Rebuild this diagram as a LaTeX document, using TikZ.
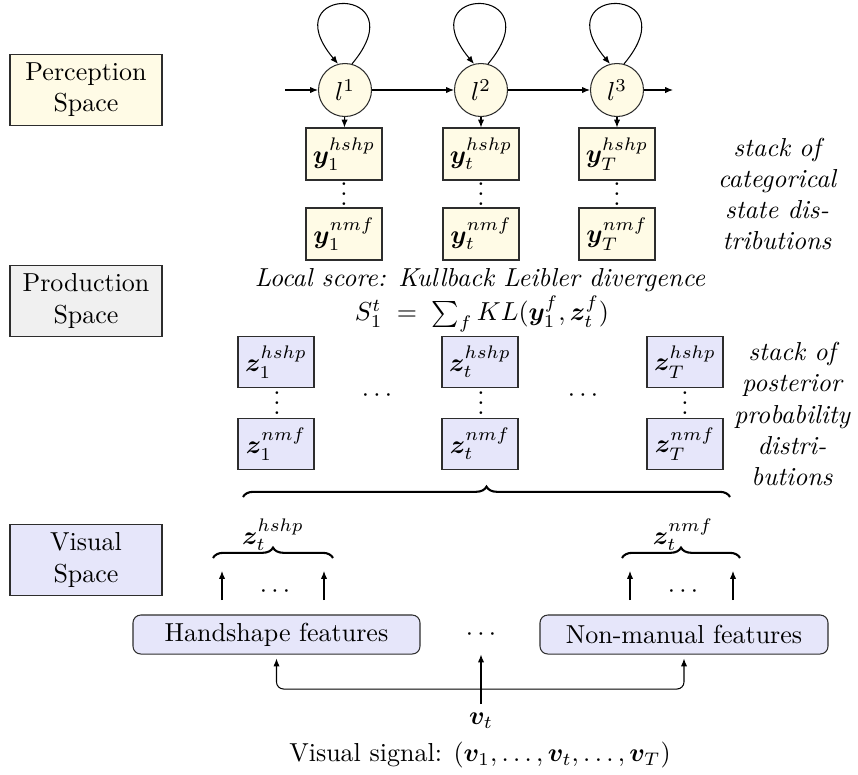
\documentclass[tikz,border=0pt]{standalone}
\usepackage{bm}
\usetikzlibrary{arrows.meta,decorations.pathreplacing,calc}
\newdimen\pxu \pxu=0.3846pt
\newcommand\myvdots{\vbox{\baselineskip3.8pt \lineskiplimit0pt \hbox{.}\hbox{.}\hbox{.}}}
\definecolor{cream}{RGB}{255,251,230}
\definecolor{lav}{RGB}{230,230,250}
\definecolor{pgray}{RGB}{240,240,240}
\definecolor{bord}{RGB}{45,45,45}
\begin{document}
\begin{tikzpicture}[x=0.3846pt,y=0.3846pt,
  >={Latex[length=3pt,width=2.4pt]},
  spacebox/.style={draw=bord,minimum width=152\pxu,minimum height=71\pxu,align=center,inner sep=0pt},
  st/.style={circle,draw=bord,fill=cream,minimum size=53\pxu,inner sep=0pt},
  ybox/.style={draw=bord,fill=cream,minimum width=76\pxu,minimum height=52\pxu,inner sep=0pt},
  zbox/.style={draw=bord,fill=lav,minimum width=76\pxu,minimum height=51\pxu,inner sep=0pt},
  feat/.style={draw=bord,fill=lav,rounded corners=3pt,minimum height=39\pxu,inner sep=0pt},
  note/.style={font=\itshape,align=center,inner sep=0pt},
  txt/.style={inner sep=0pt},
  brc/.style={decorate,decoration={brace,amplitude=4pt},line width=0.8pt},
]
\useasboundingbox (0,0) rectangle (858,-774);

% space labels
\node[spacebox,fill=cream] (perc) at (86,-90) {Perception\\Space};
\node[spacebox,fill=pgray] (prod) at (86,-301) {Production\\Space};
\node[spacebox,fill=lav] (vis) at (86,-560) {Visual\\Space};

% perception chain
\node[st] (l1) at (345,-90) {$l^1$};
\node[st] (l2) at (481,-90) {$l^2$};
\node[st] (l3) at (617,-90) {$l^3$};
\coordinate (cin) at (285,-90);
\coordinate (cout) at (673,-90);
\draw[->] (cin) -- (l1);
\draw[->] (l1) -- (l2);
\draw[->] (l2) -- (l3);
\draw[->] (l3) -- (cout);
\foreach \n in {l1,l2,l3}
  \draw[->] (\n.75) .. controls +(50:104) and +(130:104) .. (\n.105);

% y boxes
\node[ybox] (y1h) at (344,-154) {$\bm{y}_1^{hshp}$};
\node[ybox] (y1n) at (344,-234) {$\bm{y}_1^{nmf}$};
\node[txt] (y1d) at (344,-194) {\myvdots};
\node[ybox] (yth) at (481,-154) {$\bm{y}_t^{hshp}$};
\node[ybox] (ytn) at (481,-234) {$\bm{y}_t^{nmf}$};
\node[txt] (ytd) at (481,-194) {\myvdots};
\node[ybox] (yTh) at (617,-154) {$\bm{y}_T^{hshp}$};
\node[ybox] (yTn) at (617,-234) {$\bm{y}_T^{nmf}$};
\node[txt] (yTd) at (617,-194) {\myvdots};
\draw[->] (l1) -- (y1h);
\draw[->] (l2) -- (yth);
\draw[->] (l3) -- (yTh);

\node[note] (n1) at (777,-194) {stack of\\categorical\\state dis-\\tributions};

% local score
\node[txt,font=\itshape] (ls) at (480,-280) {Local score: Kullback Leibler divergence};
\node[txt] (eq) at (482,-314) {$S_1^t \;=\; \sum_f KL(\bm{y}_1^f,\bm{z}_t^f)$};

% z boxes
\node[zbox] (z1h) at (276,-362) {$\bm{z}_1^{hshp}$};
\node[zbox] (z1n) at (276,-444) {$\bm{z}_1^{nmf}$};
\node[txt] (z1d) at (277,-403) {\myvdots};
\node[zbox] (zth) at (480,-362) {$\bm{z}_t^{hshp}$};
\node[zbox] (ztn) at (480,-444) {$\bm{z}_t^{nmf}$};
\node[txt] (ztd) at (481,-403) {\myvdots};
\node[zbox] (zTh) at (685,-362) {$\bm{z}_T^{hshp}$};
\node[zbox] (zTn) at (685,-444) {$\bm{z}_T^{nmf}$};
\node[txt] (zTd) at (685,-403) {\myvdots};
\node[txt] (hd1) at (377,-396) {$\cdots$};
\node[txt] (hd2) at (583,-396) {$\cdots$};

\node[note] (n2) at (792,-414) {stack of\\posterior\\probability\\distri-\\butions};

% big brace
\coordinate (bbl) at (243,-497);
\coordinate (bbr) at (730,-497);
\draw[brc] (bbl) -- (bbr);

% small braces
\coordinate (sbl1) at (213,-558);
\coordinate (sbr1) at (333,-558);
\draw[brc] (sbl1) -- (sbr1);
\node[txt] (zh) at (273,-535) {$\bm{z}_t^{hshp}$};
\coordinate (sbl2) at (622,-558);
\coordinate (sbr2) at (740,-558);
\draw[brc] (sbl2) -- (sbr2);
\node[txt] (zn) at (683,-535) {$\bm{z}_t^{nmf}$};

% feature boxes
\node[feat,minimum width=287\pxu] (hand) at (276.5,-634.5) {Handshape features};
\node[feat,minimum width=288\pxu] (nonm) at (684,-634.5) {Non-manual features};
\node[txt,minimum height=39\pxu] (md) at (481,-634.5) {$\cdots$};

% arrows up to small braces
\coordinate (a1s) at (222,-600); \coordinate (a1e) at (222,-571);
\coordinate (a2s) at (324,-600); \coordinate (a2e) at (324,-571);
\coordinate (a3s) at (630,-600); \coordinate (a3e) at (630,-571);
\coordinate (a4s) at (733,-600); \coordinate (a4e) at (733,-571);
\draw[->] (a1s) -- (a1e);
\draw[->] (a2s) -- (a2e);
\draw[->] (a3s) -- (a3e);
\draw[->] (a4s) -- (a4e);
\node[txt] (sd1) at (275,-592) {$\cdots$};
\node[txt] (sd2) at (683,-592) {$\cdots$};

% visual signal
\node (vt) at (481,-721) {$\bm{v}_t$};
\coordinate (bus) at (481,-689);
\draw[->] (vt) -- (md.south);
\draw[->,rounded corners=7\pxu,shorten >=4\pxu] (bus) -| (hand);
\draw[->,rounded corners=7\pxu,shorten >=4\pxu] (bus) -| (nonm);
\node[txt] (vs) at (480,-755) {Visual signal: $(\bm{v}_1,\dots,\bm{v}_t,\dots,\bm{v}_T)$};
\end{tikzpicture}
\end{document}
